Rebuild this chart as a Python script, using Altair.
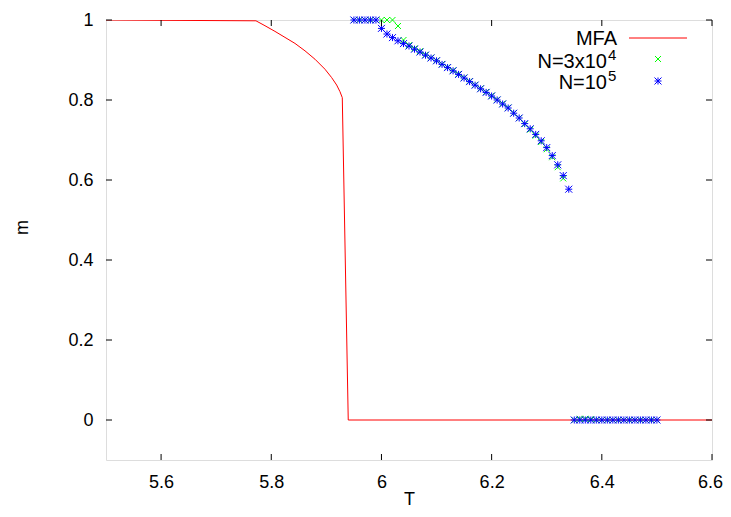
import altair as alt
import pandas as pd

# ---------------- data ----------------
mfa_T = [5.5, 5.7722, 5.7886, 5.8067, 5.8249, 5.8430, 5.8612, 5.8793, 5.8975,
         5.9096, 5.9187, 5.9247, 5.9289, 5.9397, 6.6]
mfa_m = [1.0, 0.998, 0.9857, 0.9716, 0.9565, 0.9415, 0.9229, 0.902, 0.8769,
         0.856, 0.8374, 0.8208, 0.8058, 0.0, 0.0]

n5_T = [5.95, 5.96, 5.97, 5.98, 5.99,
        6.00, 6.01, 6.02, 6.03, 6.04, 6.05, 6.06, 6.07, 6.08, 6.09,
        6.10, 6.11, 6.12, 6.13, 6.14, 6.15, 6.16, 6.17, 6.18, 6.19,
        6.20, 6.21, 6.22, 6.23, 6.24, 6.25, 6.26, 6.27, 6.28, 6.29,
        6.30, 6.31, 6.32, 6.33, 6.34,
        6.35, 6.36, 6.37, 6.38, 6.39, 6.40, 6.41, 6.42, 6.43, 6.44,
        6.45, 6.46, 6.47, 6.48, 6.49, 6.50]
n5_m = [1.0, 1.0, 1.0, 1.0, 1.0,
        0.979, 0.965, 0.956, 0.948, 0.941, 0.935, 0.927, 0.920, 0.912, 0.905,
        0.898, 0.889, 0.881, 0.873, 0.864, 0.855, 0.846, 0.837, 0.828, 0.819,
        0.810, 0.800, 0.790, 0.780, 0.767, 0.755, 0.741, 0.728, 0.714, 0.698,
        0.681, 0.661, 0.638, 0.611, 0.577,
        0.0, 0.0, 0.0, 0.0, 0.0, 0.0, 0.0, 0.0, 0.0, 0.0,
        0.0, 0.0, 0.0, 0.0, 0.0, 0.0]

n34_T = [5.95, 5.96, 5.97, 5.98, 5.99,
         6.00, 6.01, 6.02, 6.03, 6.04, 6.05, 6.06, 6.07, 6.08, 6.09,
         6.10, 6.11, 6.12, 6.13, 6.14, 6.15, 6.16, 6.17, 6.18, 6.19,
         6.20, 6.21, 6.22, 6.23, 6.24, 6.25, 6.26, 6.27, 6.28, 6.29,
         6.30, 6.31, 6.32, 6.33,
         6.35, 6.36, 6.37, 6.38, 6.39, 6.40, 6.41, 6.42, 6.43, 6.44,
         6.45, 6.46, 6.47, 6.48, 6.49, 6.50]
n34_m = [1.0, 1.0, 1.0, 1.0, 1.0,
         1.0, 1.0, 1.0, 0.985, 0.950, 0.937, 0.929, 0.922, 0.913, 0.906,
         0.899, 0.890, 0.882, 0.874, 0.865, 0.856, 0.847, 0.838, 0.829, 0.820,
         0.811, 0.801, 0.791, 0.781, 0.767, 0.755, 0.740, 0.726, 0.711, 0.695,
         0.677, 0.657, 0.632, 0.604,
         0.0, 0.003, 0.003, 0.002, 0.0, 0.0, 0.0, 0.0, 0.0, 0.0,
         0.0, 0.0, 0.0, 0.0, 0.0, 0.0]

x_ticks = [5.6, 5.8, 6.0, 6.2, 6.4, 6.6]
y_ticks = [0.0, 0.2, 0.4, 0.6, 0.8, 1.0]
legend_base = ["MFA", "N=3x10", "N=10"]
legend_sup = ["", "4", "5"]

# ---------------- styling ----------------
W, H = 606, 440
FONT = "Liberation Sans"
RED, GREEN, BLUE = "#ff0000", "#00ff00", "#0000ff"
STAR = "M-1,0L1,0M0,-1L0,1M-1,-1L1,1M-1,1L1,-1"
CROSS = "M-1,-1L1,1M-1,1L1,-1"
STAR_SIZE, CROSS_SIZE = 49, 36

mfa_df = pd.DataFrame({"T": mfa_T, "m": mfa_m, "i": list(range(len(mfa_T)))})
n5_df = pd.DataFrame({"T": n5_T, "m": n5_m})
n34_df = pd.DataFrame({"T": n34_T, "m": n34_m})
xt_df = pd.DataFrame({"T": x_ticks})
yt_df = pd.DataFrame({"m": y_ticks})

xs = alt.Scale(domain=[5.5, 6.6], nice=False, zero=False)
ys = alt.Scale(domain=[-0.1, 1.0], nice=False, zero=False)

x_axis = alt.Axis(values=x_ticks, format="~g", tickSize=0, domain=False, grid=False,
                  labelPadding=13, labelFontSize=18, labelFont=FONT, labelColor="black",
                  labelFlush=False, labelOverlap=False, labelBound=False,
                  labelOffset={"condition": {"test": "datum.value > 6.55", "value": -2},
                               "value": 0},
                  title="T", titleFont=FONT, titleFontSize=18, titleFontWeight="normal",
                  titleColor="black", titleX=W / 2, titleY=44,
                  titleBaseline="alphabetic", titleAlign="center")
y_axis = alt.Axis(values=y_ticks, format="~g", tickSize=0, domain=False, grid=False,
                  labelPadding=13, labelFontSize=18, labelFont=FONT, labelColor="black",
                  labelFlush=False, labelOverlap=False,
                  title="m", titleFont=FONT, titleFontSize=18, titleFontWeight="normal",
                  titleColor="black", titleX=-84, titleY=207, titleBaseline="middle",
                  titleAlign="center", titleAngle=-90)

line = alt.Chart(mfa_df).mark_line(color=RED, strokeWidth=1, clip=True).encode(
    x=alt.X("T:Q", scale=xs, axis=x_axis),
    y=alt.Y("m:Q", scale=ys, axis=y_axis),
    order="i:Q",
)

green = alt.Chart(n34_df).mark_point(shape=CROSS, filled=False, color=GREEN,
                                     strokeWidth=1, size=CROSS_SIZE, opacity=1).encode(
    x=alt.X("T:Q", scale=xs), y=alt.Y("m:Q", scale=ys))

blue = alt.Chart(n5_df).mark_point(shape=STAR, filled=False, color=BLUE,
                                   strokeWidth=1, size=STAR_SIZE, opacity=1).encode(
    x=alt.X("T:Q", scale=xs), y=alt.Y("m:Q", scale=ys))

tick_len = 6
bt = alt.Chart(xt_df).mark_rule(color="black", strokeWidth=1).encode(
    x=alt.X("T:Q", scale=xs), y=alt.value(H), y2=alt.value(H - tick_len))
tt = alt.Chart(xt_df).mark_rule(color="black", strokeWidth=1).encode(
    x=alt.X("T:Q", scale=xs), y=alt.value(0), y2=alt.value(tick_len))
lt = alt.Chart(yt_df).mark_rule(color="black", strokeWidth=1).encode(
    y=alt.Y("m:Q", scale=ys), x=alt.value(0), x2=alt.value(tick_len))
rt = alt.Chart(yt_df).mark_rule(color="black", strokeWidth=1).encode(
    y=alt.Y("m:Q", scale=ys), x=alt.value(W), x2=alt.value(W - tick_len))

# legend (gnuplot style: right-aligned label, sample to the right)
LX_MFA, LX_BASE, LX_SUP = 511, 501, 502
LY = [18, 41, 62]
SUP_DY = -6
SX0, SX1, SM = 523, 581, 552
leg = []
for base, sup, yy in zip(legend_base, legend_sup, LY):
    lx = LX_MFA if not sup else LX_BASE
    leg.append(alt.Chart(pd.DataFrame({"t": [base]})).mark_text(
        align="right", baseline="middle", font=FONT, fontSize=20, color="black").encode(
        text="t:N", x=alt.value(lx), y=alt.value(yy + 1)))
    if sup:
        leg.append(alt.Chart(pd.DataFrame({"t": [sup]})).mark_text(
            align="left", baseline="middle", font=FONT, fontSize=15, color="black").encode(
            text="t:N", x=alt.value(LX_SUP), y=alt.value(yy + SUP_DY)))
leg.append(alt.Chart(pd.DataFrame({"t": [0]})).mark_rule(color=RED, strokeWidth=1).encode(
    x=alt.value(SX0), x2=alt.value(SX1), y=alt.value(LY[0])))
leg.append(alt.Chart(pd.DataFrame({"t": [0]})).mark_point(
    shape=CROSS, filled=False, color=GREEN, strokeWidth=1, size=CROSS_SIZE, opacity=1).encode(
    x=alt.value(SM), y=alt.value(LY[1] - 2)))
leg.append(alt.Chart(pd.DataFrame({"t": [0]})).mark_point(
    shape=STAR, filled=False, color=BLUE, strokeWidth=1, size=STAR_SIZE, opacity=1).encode(
    x=alt.value(SM), y=alt.value(LY[2] - 1)))

chart = alt.layer(line, green, blue, bt, tt, lt, rt, *leg).properties(
    width=W, height=H,
    autosize=alt.AutoSizeParams(type="none"),
    padding={"left": 98, "top": 12, "right": 11, "bottom": 49},
).configure_view(stroke="black", strokeWidth=1).configure(background="white")

chart.save("out.html", embed_options={"renderer": "svg", "actions": False})
